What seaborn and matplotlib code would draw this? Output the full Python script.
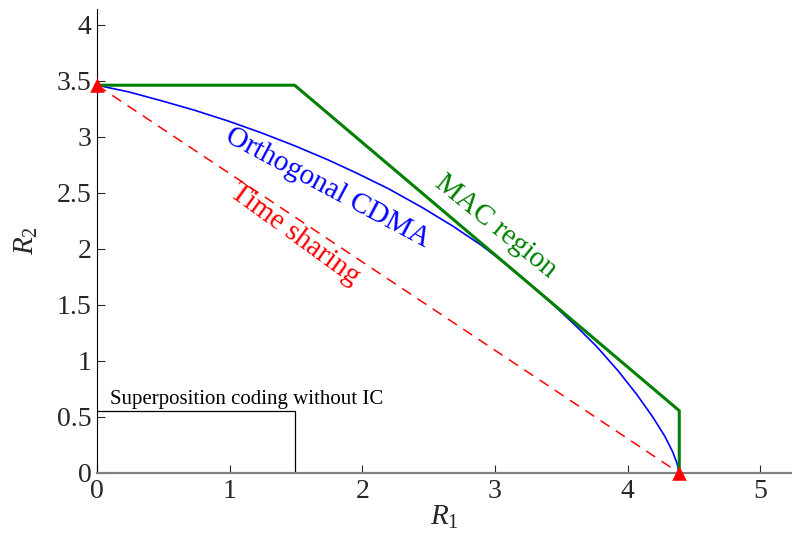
import matplotlib
matplotlib.use("Agg")
import matplotlib.pyplot as plt
import seaborn as sns

# MAC capacity region boundary
mac_r1 = [0.0, 1.49, 4.39, 4.39]
mac_r2 = [3.46, 3.46, 0.556, 0.0]

# time sharing line between the two single-user points
ts_r1 = [0.0, 4.39]
ts_r2 = [3.46, 0.0]

# orthogonal CDMA boundary
cdma_r1 = [0.0, 0.24, 0.49, 0.74, 0.99, 1.24, 1.49, 1.74, 1.95, 2.20,
           2.45, 2.68, 2.90, 3.07, 3.25, 3.43, 3.60, 3.77, 3.93, 4.07,
           4.19, 4.28, 4.34, 4.375, 4.39]
cdma_r2 = [3.46, 3.40, 3.32, 3.235, 3.14, 3.035, 2.92, 2.795, 2.68, 2.535,
           2.37, 2.205, 2.03, 1.875, 1.698, 1.512, 1.325, 1.125, 0.91, 0.70,
           0.50, 0.33, 0.19, 0.08, 0.0]

# superposition coding without interference cancellation
sc_r1 = [0.0, 1.49, 1.49]
sc_r2 = [0.556, 0.556, 0.0]

# single-user corner points
corner_r1 = [0.0, 4.39]
corner_r2 = [3.46, 0.0]

sns.set_style("ticks")
plt.rcParams["font.family"] = ["Liberation Serif", "DejaVu Serif"]
plt.rcParams["mathtext.fontset"] = "custom"
plt.rcParams["mathtext.rm"] = "Liberation Serif"
plt.rcParams["mathtext.it"] = "Liberation Serif:italic"

fig = plt.figure(figsize=(7.92, 5.42), dpi=100)
ax = fig.add_axes([97 / 792, 69 / 542, 695 / 792, 464 / 542])

sns.lineplot(x=sc_r1, y=sc_r2, color="black", linewidth=0.9, sort=False,
             estimator=None, ax=ax)
sns.lineplot(x=ts_r1, y=ts_r2, color="red", linewidth=1.1, sort=False,
             estimator=None, ax=ax, linestyle=(0, (7, 5)))
sns.lineplot(x=cdma_r1, y=cdma_r2, color="blue", linewidth=1.2, sort=False,
             estimator=None, ax=ax)
sns.lineplot(x=mac_r1, y=mac_r2, color="green", linewidth=2.2, sort=False,
             estimator=None, ax=ax)
sns.scatterplot(x=corner_r1, y=corner_r2, color="red", marker="^", s=110,
                edgecolor="red", linewidth=0, clip_on=False, zorder=5, ax=ax)

ax.set_xlim(0, 5.24)
ax.set_ylim(0, 4.14)
ax.set_xticks([0, 1, 2, 3, 4, 5])
ax.set_yticks([0, 0.5, 1, 1.5, 2, 2.5, 3, 3.5, 4])
ax.set_xticklabels(["0", "1", "2", "3", "4", "5"])
ax.set_yticklabels(["0", "0.5", "1", "1.5", "2", "2.5", "3", "3.5", "4"])
ax.tick_params(direction="in", length=6, width=0.8, labelsize=20, pad=4)

sns.despine(ax=ax)
ax.spines["bottom"].set_color("#808080")
ax.spines["bottom"].set_linewidth(1.6)
ax.spines["left"].set_color("black")
ax.spines["left"].set_linewidth(0.8)

ax.set_xlabel("$R_1$", fontsize=21, labelpad=0)
ax.set_ylabel("$R_2$", fontsize=21, labelpad=12)

ax.text(1.74, 2.54, "Orthogonal CDMA", color="blue", fontsize=21,
        rotation=-28, ha="center", va="center", rotation_mode="anchor")
ax.text(1.49, 2.13, "Time sharing", color="red", fontsize=21,
        rotation=-36, ha="center", va="center", rotation_mode="anchor")
ax.text(3.005, 2.20, "MAC region", color="green", fontsize=21,
        rotation=-39, ha="center", va="center", rotation_mode="anchor")
ax.text(0.098, 0.62, "Superposition coding without IC", color="black",
        fontsize=15, ha="left", va="baseline")

fig.savefig("out.png", dpi=100)
